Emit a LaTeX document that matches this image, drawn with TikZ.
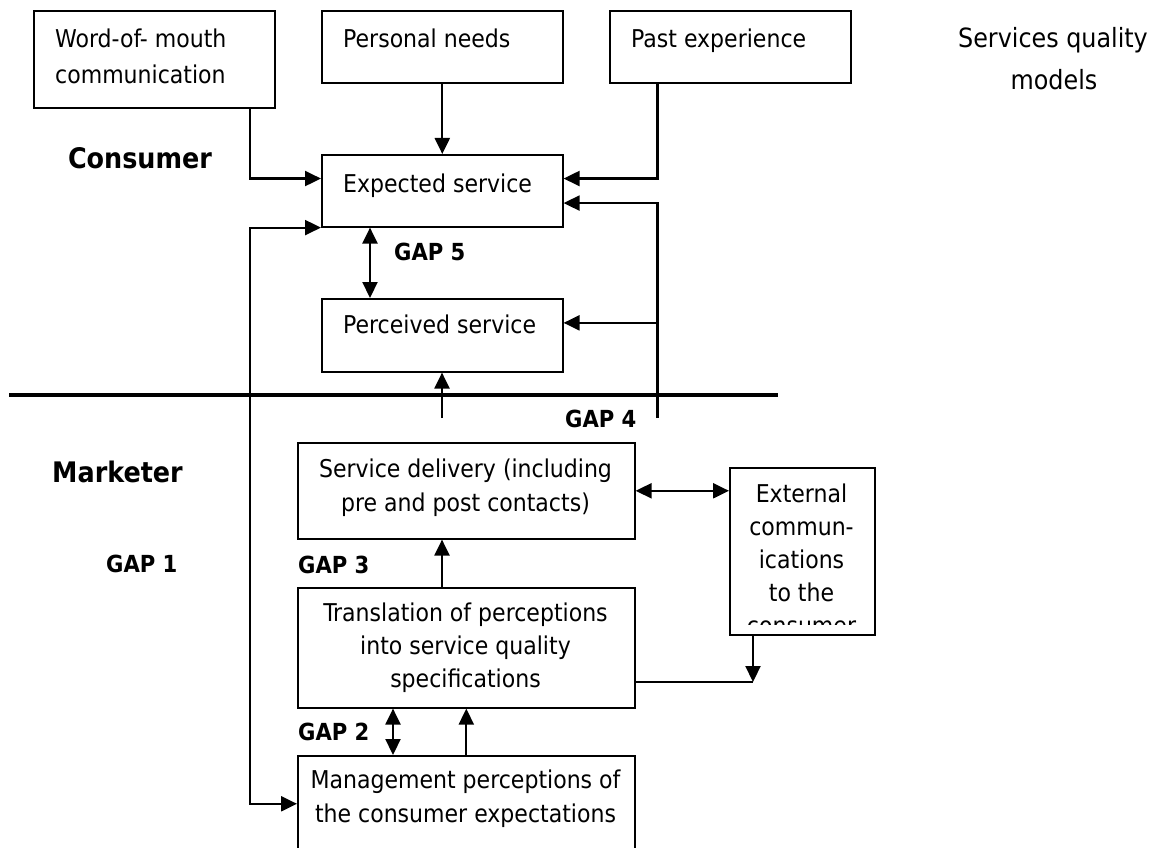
\documentclass[tikz,border=0pt]{standalone}
\usepackage{fontspec}
\setmainfont{DejaVu Sans Condensed}
\usetikzlibrary{arrows.meta,calc}

\begin{document}
\begin{tikzpicture}[x=1pt,y=-1pt,
  box/.style={draw,line width=1.6pt,rectangle,inner sep=0pt,anchor=north west},
  txt/.style={inner sep=0pt,font=\fontsize{24.5}{30}\selectfont},
  gaplbl/.style={inner sep=0pt,font=\fontsize{23.5}{28}\selectfont\bfseries},
  sidelbl/.style={inner sep=0pt,font=\fontsize{28.3}{34}\selectfont\bfseries},
  conn/.style={line width=2.2pt},
  tip/.tip={Triangle[length=16pt,width=15pt]},
  arr/.style={conn,-tip},
  darr/.style={conn,tip-tip},
]
\useasboundingbox (0,0) rectangle (1162,848);
\clip (0,0) rectangle (1162,848);

% ---- consumer side: inputs
\node[box,minimum width=241pt,minimum height=97pt] (wom) at (33,10) {};
\node[txt,anchor=base west] (womA) at (55,48) {Word-of- mouth};
\node[txt,anchor=base west] (womB) at (55,84) {communication};

\node[box,minimum width=241pt,minimum height=72pt] (pn) at (321,10) {};
\node[txt,anchor=base west] (pnT) at (343,48) {Personal needs};

\node[box,minimum width=241pt,minimum height=72pt] (pe) at (609,10) {};
\node[txt,anchor=base west] (peT) at (631,48) {Past experience};

\node[txt,anchor=base,font=\fontsize{26.5}{30}\selectfont] (sqA) at (1053,48) {Services quality};
\node[txt,anchor=base,font=\fontsize{26.5}{30}\selectfont] (sqB) at (1054,90) {models};

\node[sidelbl,anchor=base] (cons) at (140,168) {Consumer};

\node[box,minimum width=241pt,minimum height=72pt] (es) at (321,154) {};
\node[txt,anchor=base west] (esT) at (343,192) {Expected service};

\node[gaplbl,anchor=base west] (g5) at (394,260) {GAP 5};

\node[box,minimum width=241pt,minimum height=73pt] (ps) at (321,298) {};
\node[txt,anchor=base west] (psT) at (343,333) {Perceived service};

% ---- marketer side
\node[sidelbl,anchor=base] (mkt) at (117.5,482) {Marketer};
\node[gaplbl,anchor=base west] (g4) at (565,427) {GAP 4};
\node[gaplbl,anchor=base west] (g1) at (106,572) {GAP 1};
\node[gaplbl,anchor=base west] (g3) at (298,573) {GAP 3};
\node[gaplbl,anchor=base west] (g2) at (298,740) {GAP 2};

\node[box,minimum width=337pt,minimum height=96pt] (sd) at (297,442) {};
\node[txt,anchor=base] (sdA) at (465.5,477) {Service delivery (including};
\node[txt,anchor=base] (sdB) at (465.5,511) {pre and post contacts)};

\node[box,minimum width=145pt,minimum height=167pt] (ext) at (729,467) {};
\node[txt,anchor=base] (extA) at (801.5,502) {External};
\node[txt,anchor=base] (extB) at (801.5,535) {commun-};
\node[txt,anchor=base] (extC) at (801.5,568) {ications};
\node[txt,anchor=base] (extD) at (801.5,601) {to the};
\begin{scope}
  \clip (729,600) rectangle (874,624);
  \node[txt,anchor=base] (extE) at (801.5,634) {consumer};
\end{scope}

\node[box,minimum width=337pt,minimum height=120pt] (tr) at (297,587) {};
\node[txt,anchor=base] (trA) at (465.5,621) {Translation of perceptions};
\node[txt,anchor=base] (trB) at (465.5,654) {into service quality};
\node[txt,anchor=base] (trC) at (465.5,687) {specifications};

\node[box,minimum width=337pt,minimum height=96pt] (mg) at (297,755) {};
\node[txt,anchor=base] (mgA) at (465.5,788) {Management perceptions of};
\node[txt,anchor=base] (mgB) at (465.5,822) {the consumer expectations};

% ---- helper points for routed connectors
\coordinate (xL) at (250,515);
\coordinate (x5) at (370,0);
\coordinate (x2) at (393,0);
\coordinate (rb) at (657.5,418);
\coordinate (ub) at (442,418);
\coordinate (tj) at (753,682);
\coordinate (sepL) at (9,395);
\coordinate (sepR) at (778,395);
\coordinate (esL) at ($(es.north west)!1/3!(es.south west)$);
\coordinate (esR1) at ($(es.north east)!1/3!(es.south east)$);
\coordinate (esR2) at ($(es.north east)!2/3!(es.south east)$);
\coordinate (psR) at ($(ps.north east)!1/3!(ps.south east)$);
\coordinate (peD) at ($(pe.south west)+(48.5,0)$);

% ---- boundary between consumer and marketer
\draw[line width=4pt] (sepL) -- (sepR);

% ---- connectors
\draw[arr] (wom.south -| xL) |- (esL);
\draw[arr] (pn) -- (es);
\draw[arr] (peD) |- (esR1);
\draw[arr] (rb) |- (esR2);
\draw[arr] (rb |- psR) -- (psR);
\draw[darr] (es.south -| x5) -- (ps.north -| x5);
\draw[arr] (ub) -- (ub |- ps.south);
\draw[arr] (xL) |- (es.south west);
\draw[arr] (xL) |- (mg.west);
\draw[darr] (sd.east) -- (sd.east -| ext.west);
\draw[arr] (tr.north -| ub) -- (sd.south -| ub);
\draw[conn] (tr.east |- tj) -- (tj);
\draw[arr] (ext.south -| tj) -- (tj);
\draw[darr] (tr.south -| x2) -- (mg.north -| x2);
\draw[arr] (mg) -- (tr);
\end{tikzpicture}
\end{document}
